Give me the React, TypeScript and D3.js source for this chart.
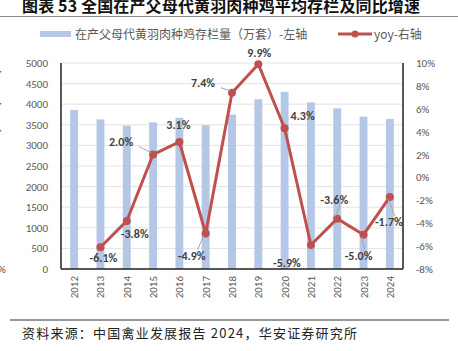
import * as d3 from "d3";

const years = ["2012", "2013", "2014", "2015", "2016", "2017", "2018", "2019", "2020", "2021", "2022", "2023", "2024"];
const stock = [3860, 3630, 3480, 3560, 3670, 3490, 3750, 4120, 4300, 4045, 3900, 3700, 3640];
const yoy = [null, -6.1, -3.8, 2.0, 3.1, -4.9, 7.4, 9.9, 4.3, -5.9, -3.6, -5.0, -1.7];
const leftTicks = [0, 500, 1000, 1500, 2000, 2500, 3000, 3500, 4000, 4500, 5000];
const rightTicks = [-8, -6, -4, -2, 0, 2, 4, 6, 8, 10];

const title = "图表 53  全国在产父母代黄羽肉种鸡平均存栏及同比增速";
const source = "资料来源：中国禽业发展报告 2024，华安证券研究所";
const barLegend = "在产父母代黄羽肉种鸡存栏量（万套）-左轴";
const lineLegend = "yoy-右轴";

// label placement per point: [dx, dy, leader]
const labelPos: [number, number, boolean][] = [
  [0, 0, false],
  [3, 15, false],
  [8, 17, false],
  [-32, -9, true],
  [-1, -13, false],
  [-14, 26, true],
  [-29, -6, true],
  [1, -7, false],
  [18, -8, false],
  [-24, 22, false],
  [-3, -15, true],
  [-5, 25, true],
  [-1, 29, true],
];

const W = 458;
const H = 351;
const M = { left: 61, right: 403, top: 63, bottom: 269 };
const CJK = "'Noto Sans CJK SC', 'Noto Sans', sans-serif";
const LAT = "Calibri, 'Liberation Sans', 'Noto Sans', sans-serif";

export default function App() {
  const x = d3
    .scaleBand<string>()
    .domain(years)
    .range([M.left, M.right])
    .paddingInner(0.7)
    .paddingOuter(0.35);
  const yL = d3.scaleLinear().domain([0, 5000]).range([M.bottom, M.top]);
  const yR = d3.scaleLinear().domain([-8, 10]).range([M.bottom, M.top]);
  const cx = (y: string) => x(y)! + x.bandwidth() / 2;

  const pts = years
    .map((y, i) => ({ y, v: yoy[i], i }))
    .filter((d) => d.v !== null) as { y: string; v: number; i: number }[];
  const line = d3
    .line<{ y: string; v: number }>()
    .x((d) => cx(d.y))
    .y((d) => yR(d.v));

  return (
    <svg width={W} height={H} style={{ position: "absolute", left: 0, top: 0, background: "#fff" }}>
      {/* title */}
      <text x={22} y={12} fontFamily={CJK} fontWeight={700} fontSize={16} fill="#111"
        textLength={398} lengthAdjust="spacing">{title}</text>
      <line x1={0} x2={W} y1={16.5} y2={16.5} stroke="#888" strokeWidth={1} />

      {/* legend */}
      <rect x={40} y={31} width={31} height={6} fill="#b4c7e7" />
      <text x={75} y={38.5} fontFamily={CJK} fontSize={12} fill="#595959">{barLegend}</text>
      <line x1={338} x2={372} y1={34} y2={34} stroke="#c0504d" strokeWidth={3} />
      <circle cx={355} cy={34} r={3.5} fill="#c0504d" />
      <text x={374} y={38.5} fontFamily={CJK} fontSize={12} fill="#595959">{lineLegend}</text>

      {/* grid */}
      {leftTicks.map((t) => (
        <line key={t} x1={M.left} x2={M.right} y1={yL(t)} y2={yL(t)} stroke="#e3e3e3" strokeWidth={1} />
      ))}

      {/* bars */}
      {years.map((y, i) => (
        <rect key={y} x={x(y)} y={yL(stock[i])} width={x.bandwidth()} height={M.bottom - yL(stock[i])} fill="#b4c7e7" />
      ))}

      {/* axes */}
      <line x1={M.left} x2={M.left} y1={M.top} y2={M.bottom} stroke="#222" strokeWidth={1.5} />
      <line x1={M.right} x2={M.right} y1={M.top} y2={M.bottom} stroke="#222" strokeWidth={1.5} />
      <line x1={M.left} x2={M.right} y1={M.bottom} y2={M.bottom} stroke="#222" strokeWidth={1.5} />

      {leftTicks.map((t) => (
        <text key={t} x={48} y={yL(t) + 4} textAnchor="end" fontFamily={LAT} fontSize={11} fill="#595959">{t}</text>
      ))}
      {rightTicks.map((t) => (
        <text key={t} x={416} y={yR(t) + 4} fontFamily={LAT} fontSize={11} fill="#595959">{t}%</text>
      ))}
      {years.map((y) => (
        <text key={y} transform={`translate(${cx(y) + 4},${276}) rotate(-90)`} textAnchor="end"
          fontFamily={LAT} fontSize={11} fill="#595959">{y}</text>
      ))}

      {/* yoy line */}
      <path d={line(pts) ?? ""} fill="none" stroke="#c0504d" strokeWidth={3} strokeLinejoin="round" />
      {pts.map((d) => (
        <circle key={d.y} cx={cx(d.y)} cy={yR(d.v)} r={4} fill="#c0504d" />
      ))}
      {pts.map((d) => {
        const [dx, dy, leader] = labelPos[d.i];
        const px = cx(d.y);
        const py = yR(d.v);
        const lx = px + dx;
        const ly = py + dy;
        return (
          <g key={d.y}>
            {leader && (
              <line x1={px + (dx < 0 ? -2 : 0)} y1={py + (dy < 0 ? -2 : 2)}
                x2={lx + (Math.abs(dx) > 20 ? (dx < 0 ? 18 : -18) : dx < 0 ? 6 : 2)} y2={ly + (dy < 0 ? 1 : -10)}
                stroke="#a6a6a6" strokeWidth={1} />
            )}
            <text x={lx} y={ly} textAnchor="middle" fontFamily={LAT} fontSize={12} fontWeight={700}
              fill="#404040">{d.v.toFixed(1)}%</text>
          </g>
        );
      })}

      {/* cropped bits from neighbouring column */}
      <text x={-2} y={273} fontFamily={LAT} fontSize={11} fill="#595959">%</text>
      {[72, 104, 131].map((yy) => (
        <text key={yy} x={-1} y={yy} fontFamily={LAT} fontSize={11} fill="#595959">,</text>
      ))}

      {/* source */}
      <line x1={10} x2={449} y1={320} y2={320} stroke="#333" strokeWidth={1} />
      <text x={22} y={338} fontFamily={CJK} fontSize={13} fill="#222" textLength={335} lengthAdjust="spacing">{source}</text>
    </svg>
  );
}
